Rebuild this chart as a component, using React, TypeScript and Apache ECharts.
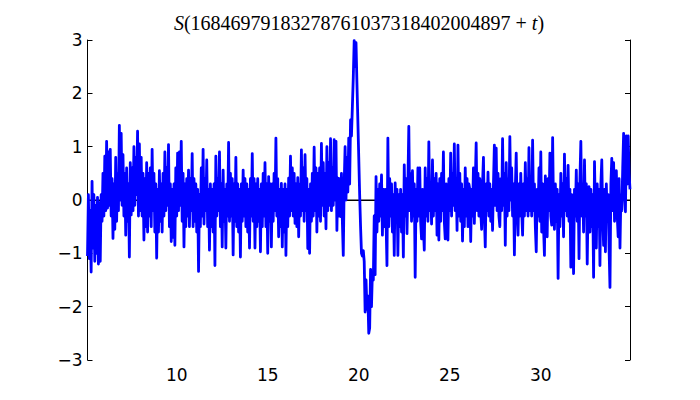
import React, { useEffect, useRef } from "react";
import * as echarts from "echarts";

// sampling grid of t
const T_START = 5.1;
const T_STEP = 0.05;

// S(T + t) values, one row per unit of t (20 samples)
const sValues: number[] = [
  -1.05, 0.1, -1.1, -0.2, -1.35, 0.35, -0.9, 0.1, -1.15, -0.1, -1.0, 0.05, -1.2, -0.05, -1.15, 0.1, -0.4, 0.5, -0.3, 0.82,
  -0.2, 1.1, -0.15, 0.9, -0.1, 0.95, -0.3, 0.4, -0.72, 0.3, -0.55, 0.8, -0.4, 0.5, -0.2, 1.4, 0.0, 1.25, -0.1, 0.85,
  -0.3, 0.5, -0.66, 0.6, -0.4, 0.3, -1.07, 0.7, -0.28, 0.6, -0.2, 1.0, -0.1, 0.8, 0.1, 1.29, -0.3, 1.05, -0.2, 0.8,
  -0.3, 0.5, -0.75, 0.4, -0.5, 0.7, -0.6, 0.5, -0.3, 0.6, -0.5, 0.95, -0.2, 0.5, -0.6, 0.3, -1.09, 0.2, -0.6, 0.55,
  -0.4, 0.3, -0.6, 0.5, -0.3, 0.9, -0.2, 0.6, -0.1, 1.04, -0.5, 0.3, -0.78, 0.2, -0.7, 0.3, -0.85, 0.6, -0.3, 0.88,
  -0.2, 0.9, -0.1, 1.1, -0.4, 0.5, -0.88, 0.3, -0.5, 0.4, -0.3, 0.56, -0.5, 0.4, -0.2, 0.87, -0.5, 0.4, -0.4, 0.3,
  -0.6, 0.2, -1.34, 0.1, -0.5, 0.6, -0.3, 0.95, -0.45, 0.4, -0.2, 0.75, -0.5, 0.2, -0.94, 0.3, -0.5, 0.2, -0.6, 0.3,
  -1.23, 0.82, -0.3, 0.4, -0.2, 0.9, -0.5, 0.3, -0.88, 0.56, -0.4, 0.2, -0.9, 0.3, -0.3, 1.08, -0.4, 0.5, -0.3, 0.4,
  -1.03, 0.3, -0.4, 0.8, -0.5, 0.3, -0.6, 0.2, -1.07, 0.3, -0.4, 0.56, -0.3, 0.4, -0.5, 0.3, -0.6, 0.2, -0.9, 0.4,
  -0.3, 0.87, -0.4, 0.4, -0.9, 0.3, -0.5, 0.4, -0.4, 0.2, -0.97, 0.3, -0.5, 0.5, -0.3, 0.7, -0.5, 0.3, -1.0, 0.44,
  -0.4, 0.3, -0.88, 0.3, -0.4, 0.5, -0.2, 1.16, -0.3, 0.4, -0.69, 0.2, -0.5, 0.31, -0.88, 0.2, -0.6, 0.3, -1.04, 0.2,
  -0.5, 0.41, -0.3, 0.82, -0.2, 0.6, -0.3, 0.5, -0.44, 0.3, -0.5, 0.42, -0.69, 0.3, -0.3, 0.94, -0.2, 0.6, -0.4, 0.85,
  -0.2, 0.4, -0.91, 0.2, -1.0, 0.3, -0.4, 0.5, -0.3, 0.99, -0.2, 0.6, -0.6, 0.5, -0.3, 0.6, -0.4, 1.06, -0.1, 0.7,
  -0.3, 0.5, -0.54, 1.0, -0.2, 0.7, -0.1, 1.15, -0.2, 0.6, -0.1, 1.13, 0.0, 1.1, -0.57, 0.41, -0.3, 0.4, -0.31, 0.5,
  -0.4, -1.04, 0.3, 1.0, 0.0, 0.8, 0.15, 1.16, 0.3, 1.5, 1.2, 1.75, 2.3, 2.99, 2.5, 2.95, 2.2, 1.5, 0.8, 0.1,
  -0.5, -1.0, -1.05, -0.95, -1.15, -2.1, -1.5, -2.05, -1.8, -2.5, -2.4, -1.3, -2.0, -1.35, -1.5, -0.3, -1.4, 0.44, -0.6, 0.2,
  -0.4, 0.3, -0.3, 0.47, -0.66, 0.2, -0.5, 0.2, -0.4, -1.23, 1.16, -0.5, 0.4, -0.3, 0.3, -0.6, 0.1, -1.04, 0.32, -0.4,
  0.2, -1.04, 0.1, -0.5, 0.2, -0.6, 0.1, -1.07, 0.66, -0.3, 0.4, -0.63, 0.3, 1.38, -0.2, 0.5, -0.4, 0.55, -0.3, 0.3,
  -1.45, 0.2, -0.4, 0.6, -0.3, 0.6, -0.4, -0.73, 0.2, -0.5, -0.94, 0.6, -0.3, 0.4, -0.4, 1.09, -0.2, 0.3, -0.45, 0.75,
  -0.3, 0.4, -0.2, 0.5, -0.66, 0.3, -0.75, 0.4, -0.4, 0.5, -0.2, 0.9, -0.4, -0.73, 0.3, -0.3, -0.75, 0.4, -0.2, 0.88,
  -0.3, 0.5, -0.1, 1.05, -0.2, 0.4, -0.57, 1.03, -0.3, 0.5, -0.4, 0.3, -0.77, 0.2, -0.5, 0.6, -0.3, 0.4, -0.5, 0.3,
  0.2, -0.78, 0.2, -0.3, 0.6, -0.44, 0.3, 1.07, -0.2, 0.5, -0.3, 0.4, -0.2, -0.55, 0.3, 0.8, -0.3, -0.88, 0.3, -0.2,
  0.52, -0.3, 0.3, -0.4, 0.2, -0.57, 0.3, 1.03, -0.1, 0.97, -0.2, 0.5, -0.3, -0.5, 0.4, -0.2, 1.15, -0.1, 0.5, -0.85,
  0.7, -0.3, 0.4, -0.2, 1.19, 0.0, 0.6, -0.3, 0.3, -1.03, 0.2, 0.88, -0.2, -0.66, 0.3, -0.3, 0.5, -0.2, -0.66, 0.3,
  -0.3, 0.7, -0.2, 0.4, -0.3, 0.98, -0.2, 0.4, -0.3, 1.12, -0.2, 0.3, -0.5, -0.97, 0.2, -0.3, 0.6, -0.4, 0.9, -0.6,
  0.3, -0.5, -1.04, 0.45, -0.3, -0.69, 0.4, -0.2, 0.88, -0.3, -0.47, 1.17, -0.2, -0.55, 0.3, -0.4, 0.2, -1.47, 0.1, -0.5,
  0.5, -0.3, 0.3, -0.69, 0.86, -0.2, 0.4, -0.3, 0.65, -0.4, 0.2, -1.26, 0.1, -0.5, -1.38, 0.2, -0.3, 0.56, -0.4, 0.3,
  -1.1, 0.4, 1.1, -0.3, 0.3, -0.6, 0.75, -0.3, 0.3, -1.2, 0.0, 0.25, -0.6, 0.2, -0.5, 0.1, -1.45, 0.72, -0.3, -0.9,
  0.3, -0.5, 0.2, -1.23, 0.3, 0.75, -0.3, -0.85, 0.2, -0.97, 0.3, -0.4, 0.1, -0.9, -1.64, 0.3, 0.78, -0.2, 0.7, -0.4,
  0.3, 0.55, -0.3, -0.69, 0.4, -0.9, 0.1, -0.2, 0.6, 1.25, 0.1, -0.22, 1.2, 0.3, 1.2, 0.5, 0.2,
];

const xTicks = [10, 15, 20, 25, 30];
const yMin = -3;
const yMax = 3;
const yInterval = 1;
const titleNumber = "16846979183278761037318402004897";

export default function App() {
  const ref = useRef<HTMLDivElement>(null);

  useEffect(() => {
    const chart = echarts.init(ref.current!, null, { renderer: "svg" });
    const data = sValues.map((v, i) => [
      Math.round((T_START + i * T_STEP) * 1000) / 1000,
      v,
    ]);
    const xMin = data[0][0];
    const xMax = data[data.length - 1][0];
    const fmt = (v: number) => (v < 0 ? "\u2212" + Math.abs(v) : String(v));
    const axisFont = {
      fontFamily: "DejaVu Sans",
      fontSize: 17,
      color: "#000",
    };
    const lineStyle = { color: "#000", width: 1 };
    const tickStyle = { color: "#000", width: 1 };

    chart.setOption({
      animation: false,
      backgroundColor: "#fff",
      grid: { left: 87.5, right: 70, top: 40, bottom: 40 },
      xAxis: [
        {
          type: "value",
          position: "bottom",
          min: xMin,
          max: xMax,
          axisLine: { show: true, lineStyle },
          axisTick: {
            show: true,
            inside: true,
            length: 5,
            lineStyle: tickStyle,
            customValues: xTicks,
          },
          axisLabel: {
            show: true,
            customValues: xTicks,
            margin: 6,
            ...axisFont,
          },
          splitLine: { show: false },
        },
        {
          type: "value",
          position: "top",
          min: xMin,
          max: xMax,
          axisLine: { show: true, lineStyle },
          axisTick: {
            show: true,
            inside: true,
            length: 5,
            lineStyle: tickStyle,
            customValues: xTicks,
          },
          axisLabel: { show: false },
          splitLine: { show: false },
        },
      ],
      yAxis: [
        {
          type: "value",
          position: "left",
          min: yMin,
          max: yMax,
          interval: yInterval,
          axisLine: { show: true, lineStyle },
          axisTick: { show: true, inside: true, length: 5, lineStyle: tickStyle },
          axisLabel: { show: true, margin: 5, formatter: fmt, ...axisFont },
          splitLine: { show: false },
        },
        {
          type: "value",
          position: "right",
          min: yMin,
          max: yMax,
          interval: yInterval,
          axisLine: { show: true, lineStyle },
          axisTick: { show: true, inside: true, length: 5, lineStyle: tickStyle },
          axisLabel: { show: false },
          splitLine: { show: false },
        },
      ],
      graphic: [
        {
          type: "text",
          x: 359,
          y: 23,
          style: {
            text: "{i|S}{n|(" + titleNumber + " + }{i|t}{n|)}",
            align: "center",
            verticalAlign: "middle",
            fill: "#000",
            rich: {
              i: {
                fontFamily: "Liberation Serif",
                fontStyle: "italic",
                fontSize: 20,
              },
              n: { fontFamily: "Liberation Serif", fontSize: 20 },
            },
          },
        },
      ],
      series: [
        {
          type: "line",
          name: "zero",
          data: [
            [xMin, 0],
            [xMax, 0],
          ],
          showSymbol: false,
          lineStyle: { color: "#000", width: 1 },
          z: 1,
        },
        {
          type: "line",
          name: "S",
          data,
          showSymbol: false,
          lineStyle: { color: "#0000ff", width: 2.8, join: "round" },
          z: 3,
        },
      ],
    });

    return () => chart.dispose();
  }, []);

  return (
    <div
      ref={ref}
      style={{ position: "fixed", left: 0, top: 0, width: 700, height: 400 }}
    />
  );
}
